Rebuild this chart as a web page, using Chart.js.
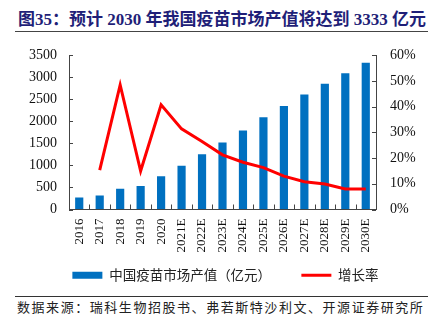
<!DOCTYPE html>
<html>
<head>
<meta charset="utf-8">
<script src="https://cdn.jsdelivr.net/npm/chart.js@4"></script>
<style>
  html, body { margin: 0; padding: 0; background: #fff; }
  body { width: 439px; height: 327px; position: relative; overflow: hidden; }
  #title { position: absolute; left: 18px; top: 9px; font: bold 17px "Liberation Serif", "Noto Sans CJK SC", serif; color: #1f1f78; white-space: nowrap; line-height: 22px; }
  #rule1 { position: absolute; left: 15px; top: 31px; width: 413px; border-top: 1.5px solid #444; }
  #wrap { position: absolute; left: 0; top: 33px; width: 439px; height: 259px; }
  #rule2 { position: absolute; left: 15px; top: 296px; width: 413px; border-top: 1px solid #333; }
  #source { position: absolute; left: 17px; top: 298px; font: 13px "Noto Sans CJK SC", sans-serif; letter-spacing: 1.55px; color: #222; white-space: nowrap; line-height: 18px; }
</style>
</head>
<body>
<div id="title">图35：预计 2030 年我国疫苗市场产值将达到 3333 亿元</div>
<div id="rule1"></div>
<div id="wrap"><canvas id="chart"></canvas></div>
<div id="rule2"></div>
<div id="source">数据来源：瑞科生物招股书、弗若斯特沙利文、开源证券研究所</div>
<script>
// Data
const years = ['2016', '2017', '2018', '2019', '2020', '2021E', '2022E', '2023E', '2024E', '2025E', '2026E', '2027E', '2028E', '2029E', '2030E'];
const marketValue = [275, 318, 470, 535, 757, 996, 1255, 1522, 1797, 2093, 2353, 2612, 2857, 3095, 3333];
const growthRate = [null, 15.3, 48.5, 15, 40.8, 31.4, 26.5, 21.3, 18.4, 16.3, 13, 10.8, 9.9, 8, 8];

const axisColor = '#444';
const serif = '"Liberation Serif", "Noto Sans CJK SC", serif';

// small tick marks pointing into the plot
const inwardTicks = {
  id: 'inwardTicks',
  afterDraw(chart) {
    const ctx = chart.ctx;
    const { x, y, y1 } = chart.scales;
    const area = chart.chartArea;
    ctx.save();
    ctx.strokeStyle = axisColor;
    ctx.lineWidth = 1;
    ctx.beginPath();
    y.ticks.forEach(t => {
      const py = Math.round(y.getPixelForValue(t.value)) + 0.5;
      ctx.moveTo(area.left, py);
      ctx.lineTo(area.left + 4, py);
    });
    y1.ticks.forEach(t => {
      const py = Math.round(y1.getPixelForValue(t.value)) + 0.5;
      ctx.moveTo(area.right, py);
      ctx.lineTo(area.right - 4, py);
    });
    for (let i = 1; i < years.length; i++) {
      const px = Math.round((x.getPixelForValue(i - 1) + x.getPixelForValue(i)) / 2) + 0.5;
      ctx.moveTo(px, area.bottom);
      ctx.lineTo(px, area.bottom - 5);
    }
    ctx.stroke();
    ctx.restore();
  }
};

new Chart(document.getElementById('chart'), {
  data: {
    labels: years,
    datasets: [
      {
        type: 'bar',
        // trailing ideographic spaces widen the gap between the two legend items
        label: '中国疫苗市场产值（亿元）\u3000\u3000',
        data: marketValue,
        backgroundColor: '#0070c0',
        yAxisID: 'y',
        order: 1,
        barPercentage: 0.4,
        categoryPercentage: 1,
        pointStyle: 'rect'
      },
      {
        type: 'line',
        label: '增长率',
        data: growthRate,
        borderColor: '#ff0000',
        backgroundColor: '#ff0000',
        borderWidth: 3,
        pointRadius: 0,
        tension: 0,
        yAxisID: 'y1',
        order: 0,
        pointStyle: 'line'
      }
    ]
  },
  options: {
    responsive: true,
    maintainAspectRatio: false,
    animation: false,
    layout: { padding: { left: 12, right: 0, top: 14, bottom: 0 } },
    plugins: {
      tooltip: { enabled: false },
      legend: {
        position: 'bottom',
        labels: {
          usePointStyle: true,
          pointStyleWidth: 30,
          boxHeight: 7,
          padding: 10,
          color: '#222',
          font: { family: '"Noto Sans CJK SC", sans-serif', size: 13.5 },
          sort: (a, b) => a.datasetIndex - b.datasetIndex
        }
      }
    },
    scales: {
      x: {
        grid: { drawOnChartArea: false, drawTicks: false },
        border: { display: true, color: axisColor, width: 1 },
        ticks: { color: '#111', minRotation: 90, maxRotation: 90, padding: 9, font: { family: serif, size: 13 } },
        afterFit: s => { s.height = 49; }
      },
      y: {
        position: 'left',
        min: 0,
        max: 3500,
        grid: { drawOnChartArea: false, drawTicks: false },
        border: { display: true, color: axisColor, width: 1 },
        ticks: { stepSize: 500, color: '#111', padding: 12, font: { family: serif, size: 14 }, callback: v => String(v) },
        afterFit: s => { s.width = 57; }
      },
      y1: {
        position: 'right',
        min: 0,
        max: 60,
        grid: { drawOnChartArea: false, drawTicks: false },
        border: { display: true, color: axisColor, width: 1 },
        ticks: { stepSize: 10, color: '#111', padding: 14, font: { family: serif, size: 14 }, callback: v => v + '%' },
        afterFit: s => { s.width = 63; }
      }
    }
  },
  plugins: [inwardTicks]
});
</script>
</body>
</html>
